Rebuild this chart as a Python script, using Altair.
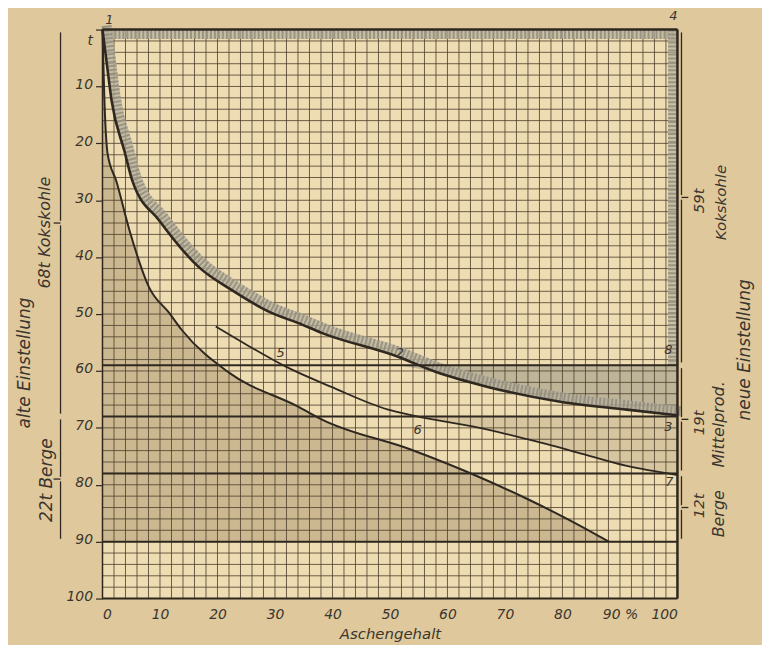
import altair as alt
import pandas as pd
import numpy as np

# ---------------- values ----------------
x_ticks = [0, 10, 20, 30, 40, 50, 60, 70, 80, 90, 100]
y_ticks = [0, 10, 20, 30, 40, 50, 60, 70, 80, 90, 100]

# curve 1-2-3 (Kokskohle boundary, heavy line with stippled band)
curve_a_x = [0, 0.7, 1.6, 3.8, 5.2, 9.9, 16.8, 22.5, 29.4, 34.1, 38.1, 51.4, 57.8, 67.0, 79.6, 91.2, 100]
curve_a_y = [0, 5.6, 12.6, 21.3, 26.6, 33.6, 41.8, 45.8, 49.8, 51.6, 53.3, 57.5, 60.1, 62.8, 65.4, 66.8, 67.8]

# lower curve (boundary of the hatched Berge field)
curve_c_x = [0, 0.3, 0.9, 2.4, 4.7, 8.1, 11.6, 13.8, 22.0, 34.1, 38.1, 53.6, 65.2, 73.9, 80.8, 87.2, 88.1]
curve_c_y = [0, 11.4, 21.9, 26.6, 35.3, 45.3, 49.8, 52.8, 60.3, 66.3, 68.5, 73.8, 78.5, 82.5, 86.0, 89.5, 90]

# curve 5-6-7 (Mittelprodukt)
curve_m_x = [19.7, 25.4, 31.8, 39.8, 49.7, 54.3, 67.0, 73.9, 82.5, 91.2, 100]
curve_m_y = [52.2, 55.6, 59.2, 62.8, 66.8, 67.9, 70.3, 72.0, 74.3, 76.7, 78.3]

# horizontal cut lines (t)
cut_levels = [59, 68, 78, 90]

# brackets: old setting (left) and new setting (right)
old_spans = [(0, 68), (68, 90)]
new_spans = [(0, 59), (59, 78), (78, 90)]

# point numbers
point_text = ["1", "4", "2", "5", "6", "3", "7", "8"]
point_x = [1.2, 99.3, 51.7, 31.0, 54.8, 98.4, 98.6, 98.4]
point_y = [-1.7, -2.3, 56.8, 56.8, 70.3, 69.9, 79.5, 56.3]

# rotated side texts
side_text = ["alte Einstellung", "68t Kokskohle", "22t Berge",
             "59t", "Kokskohle", "19t", "Mittelprod.", "neue Einstellung", "12t", "Berge"]
side_x = [-13.5, -10.0, -9.7, 103.8, 107.6, 103.8, 107.3, 111.8, 103.8, 107.3]
side_y = [58.6, 35.7, 79.2, 30.1, 30.4, 69.1, 69.4, 56.3, 83.7, 85.1]
side_fs = [17, 16, 17, 15, 15, 15, 16, 17, 15, 16]

# ---------------- styling ----------------
INK = "#2f2820"
GRID = "#4a3c2b"
TXT = "#3a352e"
FONT = "DejaVu Sans"
PAPER = "#dfc89c"
PLOT = "#eedcb2"

xs = alt.Scale(domain=[0, 100], nice=False, zero=False)
ys = alt.Scale(domain=[0, 100], reverse=True, nice=False, zero=False)

x_axis = alt.Axis(values=x_ticks, labelExpr="datum.value == 90 ? '90 %' : datum.label",
                  ticks=False, domain=False, grid=False, title="Aschengehalt",
                  titleFont=FONT, titleFontStyle="italic", titleFontWeight="normal",
                  titleFontSize=15, titleColor=TXT, titlePadding=5,
                  labelFont=FONT, labelFontStyle="italic", labelFontSize=14,
                  labelColor=TXT, labelPadding=9)
y_axis = alt.Axis(values=y_ticks, labelExpr="datum.value == 0 ? 't' : datum.label",
                  tickSize=7, tickColor=INK, tickWidth=1.2, domain=False, grid=False,
                  title=None, labelFont=FONT, labelFontStyle="italic", labelFontSize=14,
                  labelColor=TXT, labelPadding=3,
                  labelOffset={"condition": {"test": "datum.value == 0", "value": 11}, "value": -2})


def ex(f="x"):
    return alt.X(f"{f}:Q", scale=xs, axis=x_axis)


def ey(f="y"):
    return alt.Y(f"{f}:Q", scale=ys, axis=y_axis)


layers = []

# hatched Berge field (below lower curve down to 90 t)
h1 = pd.DataFrame({"x": curve_c_x, "y": curve_c_y})
h1["y2"] = 90
layers.append(alt.Chart(h1).mark_area(color="#c8b48c", opacity=0.9, interpolate="monotone")
              .encode(x=ex(), y=ey(), y2="y2:Q"))

# stippled field between 59-line and curve 1-2-3
ka = pd.DataFrame({"x": curve_a_x, "y": curve_a_y})
ks = ka[ka["x"] >= 51].copy()
ks["y"] = ks["y"].clip(lower=59)
ks["y2"] = 59
layers.append(alt.Chart(ks).mark_area(color="#a5a08c", opacity=0.65)
              .encode(x=ex(), y=ey(), y2="y2:Q"))

# hatched Mittelprodukt band between 68-line and curve 5-6-7
km = pd.DataFrame({"x": curve_m_x, "y": curve_m_y})
hm = km[km["x"] >= 49].copy()
hm["y"] = hm["y"].clip(lower=68)
hm["y2"] = 68
layers.append(alt.Chart(hm).mark_area(color="#d3c29c", opacity=0.9)
              .encode(x=ex(), y=ey(), y2="y2:Q"))

# grid (every 2 units)
gx = pd.DataFrame({"x": np.arange(0, 101, 2)})
gx["y"] = 0
gx["y2"] = 100
gy = pd.DataFrame({"y": np.arange(0, 101, 2)})
gy["x"] = 0
gy["x2"] = 100
layers.append(alt.Chart(gx).mark_rule(color=GRID, strokeWidth=1, opacity=0.8)
              .encode(x=ex(), y=ey(), y2="y2:Q"))
layers.append(alt.Chart(gy).mark_rule(color=GRID, strokeWidth=1, opacity=0.8)
              .encode(y=ey(), x=ex(), x2="x2:Q"))

# stippled bands: top edge, right edge, along curve 1-2-3
band_base = "#b8b29e"
band_col = "#8e8a7b"
top_band = pd.DataFrame({"x": [0], "x2": [100], "y": [0.85]})
layers.append(alt.Chart(top_band).mark_rule(color=band_base, strokeWidth=9, opacity=0.7)
              .encode(x=ex(), x2="x2:Q", y=ey()))
layers.append(alt.Chart(top_band).mark_rule(color=band_col, strokeWidth=9, strokeDash=[2, 2], opacity=0.8)
              .encode(x=ex(), x2="x2:Q", y=ey()))
right_band = pd.DataFrame({"x": [99.15], "y": [0], "y2": [cut_levels[0]]})
layers.append(alt.Chart(right_band).mark_rule(color=band_base, strokeWidth=9, opacity=0.7)
              .encode(x=ex(), y=ey(), y2="y2:Q"))
layers.append(alt.Chart(right_band).mark_rule(color=band_col, strokeWidth=9, strokeDash=[2, 2], opacity=0.8)
              .encode(x=ex(), y=ey(), y2="y2:Q"))
layers.append(alt.Chart(ka).mark_line(color=band_base, strokeWidth=10, opacity=0.75,
                                      interpolate="monotone", xOffset=4, yOffset=-4)
              .encode(x=ex(), y=ey()))
layers.append(alt.Chart(ka).mark_line(color=band_col, strokeWidth=10, strokeDash=[2, 2], opacity=0.8,
                                      interpolate="monotone", xOffset=4, yOffset=-4)
              .encode(x=ex(), y=ey()))

# cut lines
cl = pd.DataFrame({"y": cut_levels})
cl["x"] = 0
cl["x2"] = 100
layers.append(alt.Chart(cl).mark_rule(color=INK, strokeWidth=2)
              .encode(y=ey(), x=ex(), x2="x2:Q"))

# borders
bh = pd.DataFrame({"y": [0, 100], "w": [2.5, 2.0]})
bh["x"] = 0
bh["x2"] = 100
layers.append(alt.Chart(bh).mark_rule(color=INK)
              .encode(y=ey(), x=ex(), x2="x2:Q", strokeWidth=alt.StrokeWidth("w:Q", scale=None)))
bv = pd.DataFrame({"x": [0, 100], "w": [1.5, 2.5]})
bv["y"] = 0
bv["y2"] = 100
layers.append(alt.Chart(bv).mark_rule(color=INK)
              .encode(x=ex(), y=ey(), y2="y2:Q", strokeWidth=alt.StrokeWidth("w:Q", scale=None)))

# curves
kc = pd.DataFrame({"x": curve_c_x, "y": curve_c_y})
layers.append(alt.Chart(kc).mark_line(color=INK, strokeWidth=2, interpolate="monotone")
              .encode(x=ex(), y=ey()))
layers.append(alt.Chart(km).mark_line(color=INK, strokeWidth=1.8, interpolate="monotone")
              .encode(x=ex(), y=ey()))
layers.append(alt.Chart(ka).mark_line(color=INK, strokeWidth=2.6, interpolate="monotone")
              .encode(x=ex(), y=ey()))


# brackets
def bracket_frames(spans, xpos, out, gap=0.5):
    segs, ticks = [], []
    for a, b in spans:
        m = (a + b) / 2
        segs.append({"x": xpos, "y": a + gap, "y2": m - 0.4})
        segs.append({"x": xpos, "y": m + 0.4, "y2": b - gap})
        ticks.append({"x": xpos, "x2": xpos + out, "y": m})
    return pd.DataFrame(segs), pd.DataFrame(ticks)


for spans, xpos, out in [(old_spans, -7.3, -1.2), (new_spans, 100.7, 1.2)]:
    s, t = bracket_frames(spans, xpos, out)
    layers.append(alt.Chart(s).mark_rule(color=INK, strokeWidth=1.3)
                  .encode(x=ex(), y=ey(), y2="y2:Q"))
    layers.append(alt.Chart(t).mark_rule(color=INK, strokeWidth=1.3)
                  .encode(x=ex(), x2="x2:Q", y=ey()))

# point numbers
pt = pd.DataFrame({"x": point_x, "y": point_y, "t": point_text})
layers.append(alt.Chart(pt).mark_text(font=FONT, fontStyle="italic", fontSize=13, color=TXT)
              .encode(x=ex(), y=ey(), text="t:N"))

# rotated side texts
st = pd.DataFrame({"x": side_x, "y": side_y, "t": side_text, "fs": side_fs})
layers.append(alt.Chart(st).mark_text(font=FONT, fontStyle="italic", angle=270, color=TXT,
                                      align="center", baseline="middle")
              .encode(x=ex(), y=ey(), text="t:N", size=alt.Size("fs:Q", scale=None)))

chart = alt.layer(*layers).properties(
    width=578, height=572,
    padding={"left": 95, "top": 20, "right": 85, "bottom": 45},
    autosize=alt.AutoSizeParams(type="none"),
    background=PAPER,
).configure_view(fill=PLOT, stroke="transparent")

chart.save("out.html", embed_options={"renderer": "svg", "actions": False})
